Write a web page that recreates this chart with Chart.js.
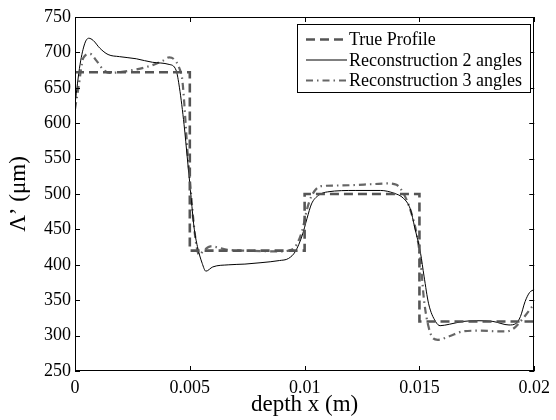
<!DOCTYPE html>
<html>
<head>
<meta charset="utf-8">
<script src="https://cdn.jsdelivr.net/npm/chart.js@4.4.1/dist/chart.umd.min.js"></script>
<style>
  html, body { margin: 0; padding: 0; background: #fff; }
  #wrap { width: 556px; height: 420px; position: relative; }
</style>
</head>
<body>
<div id="wrap"><canvas id="profileChart"></canvas></div>
<script>
// series names
const seriesNames = ['True Profile', 'Reconstruction 2 angles', 'Reconstruction 3 angles'];

// true profile (step)
const trueX = [0, 0.005, 0.005, 0.01, 0.01, 0.015, 0.015, 0.02];
const trueY = [672, 672, 420, 420, 500, 500, 320, 320];

// reconstruction with 2 angles
const rec2X = [0, 0.00022, 0.00043, 0.0006, 0.00079, 0.00108, 0.00144, 0.00194, 0.00267, 0.00338,
  0.0041, 0.0044, 0.00455, 0.00475, 0.0049, 0.00504, 0.00518, 0.00533, 0.00554, 0.0057,
  0.006, 0.0067, 0.0074, 0.0081, 0.0089, 0.0093, 0.0096, 0.0099, 0.0101, 0.0103,
  0.0106, 0.011, 0.0122, 0.0133, 0.0139, 0.0143, 0.0146, 0.0148, 0.01505, 0.0152,
  0.0154, 0.0157, 0.0159, 0.0163, 0.0169, 0.0175, 0.0182, 0.0189, 0.0192, 0.0194,
  0.0196, 0.0198, 0.02];
const rec2Y = [627, 683, 713, 720, 717, 706, 697, 694, 691, 686,
  683, 675, 650, 598, 548, 501, 454, 426, 402, 391,
  397, 400, 401, 403, 406, 409, 419, 442, 465, 486,
  498, 503, 505, 505, 501, 494, 479, 452, 416, 384,
  345, 320, 314, 316, 320, 321, 320, 315, 317, 327,
  348, 361, 365];

// reconstruction with 3 angles
const rec3X = [0, 0.00015, 0.00036, 0.00065, 0.00094, 0.00122, 0.0015, 0.00194, 0.00267, 0.00338,
  0.00381, 0.0041, 0.00432, 0.00454, 0.00468, 0.0049, 0.00504, 0.00518, 0.0053, 0.0054,
  0.0056, 0.0059, 0.0067, 0.0074, 0.0089, 0.0093, 0.0096, 0.0099, 0.0101, 0.0103,
  0.0107, 0.0115, 0.013, 0.0136, 0.014, 0.0143, 0.0146, 0.0149, 0.01505, 0.0152,
  0.0154, 0.0156, 0.0158, 0.0163, 0.0169, 0.0176, 0.0184, 0.0188, 0.0191, 0.0194,
  0.0197, 0.02];
const rec3Y = [620, 650, 692, 698, 688, 676, 671, 672, 676, 682,
  688, 693, 690, 678, 659, 560, 505, 455, 425, 414,
  420, 426, 421, 420, 419, 420, 426, 449, 478, 497,
  511, 512, 514, 515, 513, 501, 478, 440, 405, 350,
  312, 296, 294, 299, 306, 307, 306, 306, 310, 320,
  332, 345];

// axis ticks
const xTickValues = [0, 0.005, 0.01, 0.015, 0.02];
const yTickValues = [250, 300, 350, 400, 450, 500, 550, 600, 650, 700, 750];

const serif = "'Liberation Serif', 'DejaVu Serif', serif";
const toPts = (xs, ys) => xs.map((x, i) => ({ x: x, y: ys[i] }));

// box, inward ticks and legend inside the plot
const framePlugin = {
  id: 'frame',
  afterDatasetsDraw(chart) {
    const { ctx, chartArea: a, scales } = chart;
    const xs = scales.x, ys = scales.y;
    ctx.save();
    ctx.strokeStyle = '#000';
    ctx.lineWidth = 1;
    ctx.beginPath();
    xs.ticks.forEach(t => {
      const px = Math.round(xs.getPixelForValue(t.value)) + 0.5;
      ctx.moveTo(px, a.bottom); ctx.lineTo(px, a.bottom - 5);
      ctx.moveTo(px, a.top); ctx.lineTo(px, a.top + 5);
    });
    ys.ticks.forEach(t => {
      const py = Math.round(ys.getPixelForValue(t.value)) + 0.5;
      ctx.moveTo(a.left, py); ctx.lineTo(a.left + 5, py);
      ctx.moveTo(a.right, py); ctx.lineTo(a.right - 5, py);
    });
    ctx.stroke();
    ctx.strokeRect(Math.round(a.left) + 0.5, Math.round(a.top) + 0.5,
      Math.round(a.width) - 1, Math.round(a.height) - 1);

    // legend
    const bx = 297.5, by = 24.5, bw = 233, bh = 68;
    ctx.fillStyle = '#fff';
    ctx.fillRect(bx, by, bw, bh);
    ctx.strokeRect(bx, by, bw, bh);
    ctx.font = '18px ' + serif;
    ctx.textBaseline = 'middle';
    chart.data.datasets.forEach((ds, i) => {
      const yy = by + 15 + i * 20.5;
      ctx.save();
      ctx.strokeStyle = ds.borderColor;
      ctx.lineWidth = ds.borderWidth;
      ctx.setLineDash(ds.borderDash || []);
      ctx.beginPath();
      ctx.moveTo(306, yy); ctx.lineTo(347, yy);
      ctx.stroke();
      ctx.restore();
      ctx.fillStyle = '#000';
      ctx.fillText(ds.label, 349, yy + 1);
    });
    ctx.restore();
  }
};

new Chart(document.getElementById('profileChart'), {
  type: 'line',
  data: {
    datasets: [
      {
        label: seriesNames[0],
        data: toPts(trueX, trueY),
        borderColor: '#555555',
        borderWidth: 2.6,
        borderDash: [9, 5],
        pointRadius: 0,
        tension: 0
      },
      {
        label: seriesNames[1],
        data: toPts(rec2X, rec2Y),
        borderColor: '#000000',
        borderWidth: 1,
        pointRadius: 0,
        cubicInterpolationMode: 'monotone'
      },
      {
        label: seriesNames[2],
        data: toPts(rec3X, rec3Y),
        borderColor: '#666666',
        borderWidth: 2.2,
        borderDash: [7, 4, 1.5, 4],
        pointRadius: 0,
        cubicInterpolationMode: 'monotone'
      }
    ]
  },
  options: {
    responsive: true,
    maintainAspectRatio: false,
    animation: false,
    layout: { padding: { left: 0, right: 18, top: 17, bottom: 0 } },
    plugins: {
      legend: { display: false },
      tooltip: { enabled: false }
    },
    scales: {
      x: {
        type: 'linear',
        min: 0,
        max: 0.02,
        afterBuildTicks: s => { s.ticks = xTickValues.map(v => ({ value: v })); },
        afterFit: s => { s.height = 49; },
        grid: { display: false, drawTicks: false },
        border: { display: false },
        ticks: {
          color: '#000',
          font: { family: serif, size: 18 },
          padding: 6,
          maxRotation: 0,
          callback: v => String(v)
        },
        title: {
          display: true,
          text: 'depth x (m)',
          color: '#000',
          font: { family: serif, size: 23 },
          padding: { top: 0, bottom: 1 }
        }
      },
      y: {
        type: 'linear',
        min: 250,
        max: 750,
        afterBuildTicks: s => { s.ticks = yTickValues.map(v => ({ value: v })); },
        afterFit: s => { s.width = 75; },
        grid: { display: false, drawTicks: false },
        border: { display: false },
        ticks: {
          color: '#000',
          font: { family: serif, size: 18 },
          padding: 4,
          callback: v => String(v)
        },
        title: {
          display: true,
          text: 'Λ’ (μm)',
          color: '#000',
          font: { family: serif, size: 23 },
          padding: { top: 5, bottom: 0 }
        }
      }
    }
  },
  plugins: [framePlugin]
});
</script>
</body>
</html>
